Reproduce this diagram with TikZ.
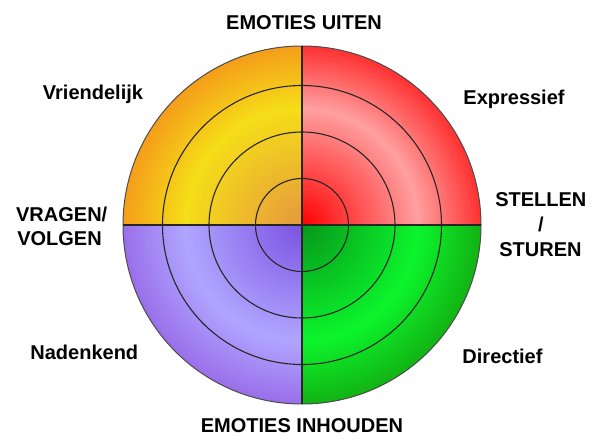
\documentclass[tikz,border=0pt]{standalone}
\usepackage{fontspec}
\setmainfont{Liberation Sans}
\definecolor{tlA}{HTML}{E6983F}
\definecolor{tlB}{HTML}{F5DE18}
\definecolor{tlC}{HTML}{F59E1A}
\definecolor{trA}{HTML}{FF0000}
\definecolor{trB}{HTML}{FFA0A0}
\definecolor{trC}{HTML}{FF3232}
\definecolor{blA}{HTML}{7B52E2}
\definecolor{blB}{HTML}{B0A6FF}
\definecolor{blC}{HTML}{9A70EA}
\definecolor{brA}{HTML}{06961A}
\definecolor{brB}{HTML}{0CF52C}
\definecolor{brC}{HTML}{12B414}
\newcommand\shadequad[5]{%
  \begin{scope}
    \clip (c) rectangle ++(#4*181,#5*181);
    \foreach \rr in {179,177.5,...,1} {
      \pgfmathsetmacro\mixpct{\rr>117 ? (\rr-117)/62*100 : \rr/117*100}
      \pgfmathsetmacro\isouter{\rr>117 ? 1 : 0}
      \ifdim\isouter pt>0.5pt \colorlet{cur}{#3!\mixpct!#2}\else\colorlet{cur}{#2!\mixpct!#1}\fi
      \fill[cur] (c) circle (\rr pt);
    }
  \end{scope}}
\tikzset{
  lbl/.style={font=\fontsize{20}{24}\selectfont\bfseries, inner sep=0pt, anchor=base, text=black},
  ring/.style={draw=black!85, line width=1.1pt},
  rim/.style={draw=black!70, line width=1pt},
}
\begin{document}
\begin{tikzpicture}[x=1pt,y=-1pt]
\useasboundingbox (0,0) rectangle (596,438);
\coordinate (c) at (302,225);
\coordinate (top) at (302,46);
\coordinate (bot) at (302,404);
\coordinate (lft) at (123,225);
\coordinate (rgt) at (481,225);
% quadrants
\shadequad{tlA}{tlB}{tlC}{-1}{-1}
\shadequad{trA}{trB}{trC}{1}{-1}
\shadequad{blA}{blB}{blC}{-1}{1}
\shadequad{brA}{brB}{brC}{1}{1}
% rings
\draw[ring] (c) circle (46.5pt);
\draw[ring] (c) circle (93pt);
\draw[ring] (c) circle (139.5pt);
\draw[rim] (c) circle (179pt);
\draw[ring] (top) -- (bot);
\draw[ring] (lft) -- (rgt);
% labels
\node[lbl] (up) at (304,30) {EMOTIES UITEN};
\node[lbl] (down) at (302,432) {EMOTIES INHOUDEN};
\node[lbl] (vri) at (93,99.3) {Vriendelijk};
\node[lbl] (exp) at (514,104.3) {Expressief};
\node[lbl] (nad) at (84.3,359.3) {Nadenkend};
\node[lbl] (dir) at (502.5,363.3) {Directief};
\node[lbl] (vr1) at (61.7,221.7) {VRAGEN/};
\node[lbl] (vr2) at (59.5,245) {VOLGEN};
\node[lbl] (st1) at (540.8,206.7) {STELLEN};
\node[lbl] (st2) at (541,231.7) {/};
\node[lbl] (st3) at (540.5,256) {STUREN};
\end{tikzpicture}
\end{document}
